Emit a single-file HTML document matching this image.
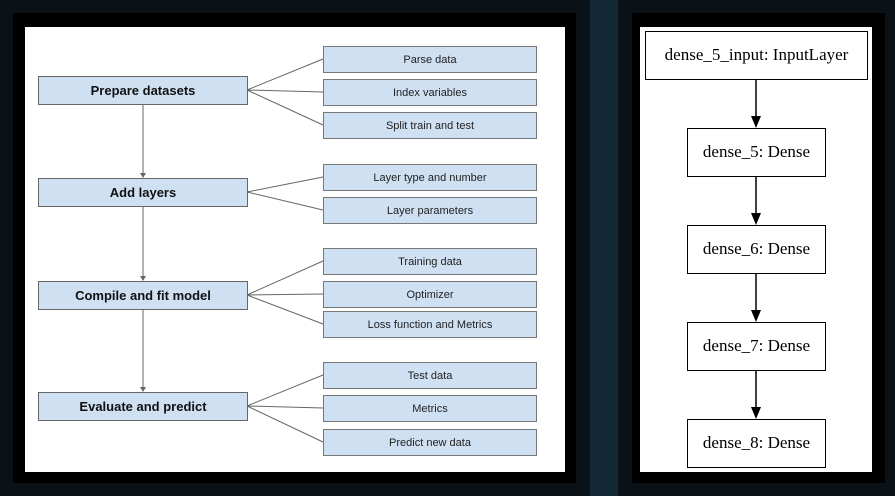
<!DOCTYPE html>
<html><head><style>
body{margin:0;width:895px;height:496px;background:#0a1218;position:relative;overflow:hidden;font-family:"Liberation Sans",sans-serif}
.abs{position:absolute}
.m{position:absolute;left:38px;width:208px;height:27px;background:#cfe0f3;border:1px solid #666;font-weight:bold;font-size:13px;text-align:center;line-height:28px;color:#111}
.s{position:absolute;left:323px;width:212px;height:25px;background:#cfe0f3;border:1px solid #777;font-size:11px;text-align:center;line-height:27px;color:#222}
.r{position:absolute;background:#fff;border:1px solid #000;font-family:"Liberation Serif",serif;font-size:17px;text-align:center;line-height:46px;color:#000}
</style></head><body>
<div class="abs" style="left:590px;top:0;width:28px;height:496px;background:#132836"></div>
<div class="abs" style="left:13px;top:13px;width:563px;height:470px;background:#000"></div>
<div class="abs" style="left:632px;top:13px;width:253px;height:470px;background:#000"></div>
<div class="abs" style="left:25px;top:27px;width:540px;height:445px;background:#fff"></div>
<div class="abs" style="left:640px;top:27px;width:232px;height:445px;background:#fff"></div>
<svg class="abs" style="left:0;top:0" width="895" height="496">
<g stroke="#666" stroke-width="1" fill="none">
<line x1="143" y1="105" x2="143" y2="175"/><line x1="143" y1="207" x2="143" y2="278"/><line x1="143" y1="310" x2="143" y2="389"/>
<line x1="247" y1="90" x2="323" y2="59"/><line x1="247" y1="90" x2="323" y2="92"/><line x1="247" y1="90" x2="323" y2="125"/>
<line x1="247" y1="192" x2="323" y2="177"/><line x1="247" y1="192" x2="323" y2="210"/>
<line x1="247" y1="295" x2="323" y2="261"/><line x1="247" y1="295" x2="323" y2="294"/><line x1="247" y1="295" x2="323" y2="324"/>
<line x1="247" y1="406" x2="323" y2="375"/><line x1="247" y1="406" x2="323" y2="408"/><line x1="247" y1="406" x2="323" y2="442"/>
</g>
<g fill="#666"><path d="M140 173 L146 173 L143 178Z"/><path d="M140 276 L146 276 L143 281Z"/><path d="M140 387 L146 387 L143 392Z"/></g>
<g stroke="#000" stroke-width="1.5"><line x1="756" y1="79" x2="756" y2="118"/><line x1="756" y1="176" x2="756" y2="215"/><line x1="756" y1="273" x2="756" y2="312"/><line x1="756" y1="370" x2="756" y2="409"/></g>
<g fill="#000"><path d="M751 116 L761 116 L756 128Z"/><path d="M751 213 L761 213 L756 225Z"/><path d="M751 310 L761 310 L756 322Z"/><path d="M751 407 L761 407 L756 419Z"/></g>
</svg>
<div class="m" style="top:76px">Prepare datasets</div>
<div class="m" style="top:178px">Add layers</div>
<div class="m" style="top:281px">Compile and fit model</div>
<div class="m" style="top:392px">Evaluate and predict</div>
<div class="s" style="top:46px">Parse data</div>
<div class="s" style="top:79px">Index variables</div>
<div class="s" style="top:112px">Split train and test</div>
<div class="s" style="top:164px">Layer type and number</div>
<div class="s" style="top:197px">Layer parameters</div>
<div class="s" style="top:248px">Training data</div>
<div class="s" style="top:281px">Optimizer</div>
<div class="s" style="top:311px">Loss function and Metrics</div>
<div class="s" style="top:362px">Test data</div>
<div class="s" style="top:395px">Metrics</div>
<div class="s" style="top:429px">Predict new data</div>
<div class="r" style="left:645px;top:31px;width:221px;height:47px">dense_5_input: InputLayer</div>
<div class="r" style="left:687px;top:128px;width:137px;height:47px">dense_5: Dense</div>
<div class="r" style="left:687px;top:225px;width:137px;height:47px">dense_6: Dense</div>
<div class="r" style="left:687px;top:322px;width:137px;height:47px">dense_7: Dense</div>
<div class="r" style="left:687px;top:419px;width:137px;height:47px">dense_8: Dense</div>
</body></html>
